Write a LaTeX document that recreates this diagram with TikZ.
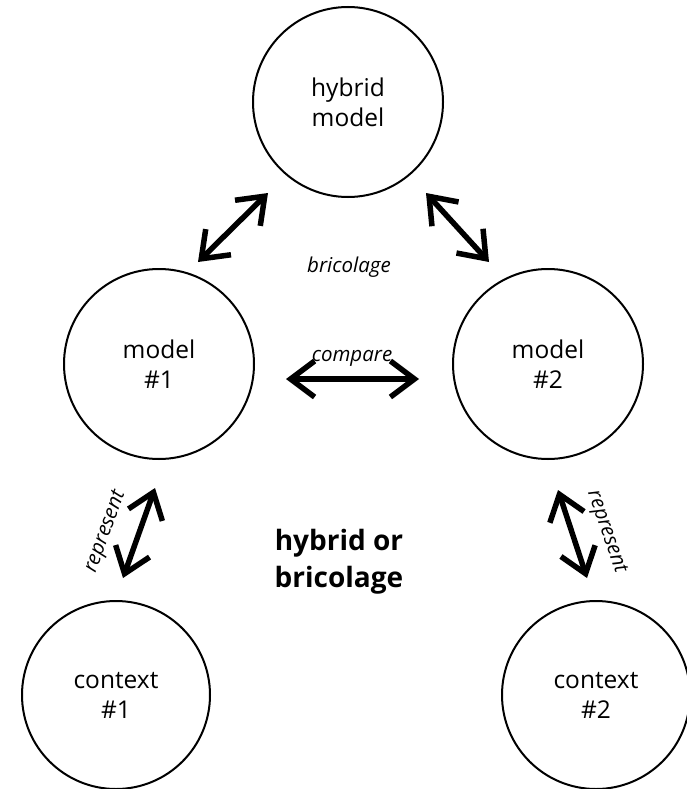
\documentclass[tikz,border=0pt]{standalone}
\usepackage{fontspec}
\setmainfont{Open Sans}
\usetikzlibrary{arrows.meta}
\begin{document}
\begin{tikzpicture}[x=1pt,y=-1pt,
  bubble/.style={circle,draw,line width=2pt,minimum size=190pt,inner sep=0pt,
    align=center,font=\fontsize{24.5}{30}\selectfont},
  link/.style={line width=5.5pt,
    {Straight Barb[length=24pt,width=36pt]}-{Straight Barb[length=24pt,width=36pt]}},
  tag/.style={font=\itshape\fontsize{20.5}{24}\selectfont,inner sep=1pt}]
\useasboundingbox (0,0) rectangle (687,789);
% circles
\node[bubble] (hyb) at (348,102) {hybrid\\model};
\node[bubble] (m1) at (159,364) {model\\\#1};
\node[bubble] (m2) at (548,364) {model\\\#2};
\node[bubble,minimum size=188pt] (c1) at (116,695) {context\\\#1};
\node[bubble,minimum size=188pt] (c2) at (596,695) {context\\\#2};
% arrow end points
\coordinate (hybA) at (268,193);
\coordinate (m1A) at (198,262);
\coordinate (hybB) at (426,193);
\coordinate (m2A) at (489,262);
\coordinate (m1B) at (286,379);
\coordinate (m2B) at (419,379);
\coordinate (m1C) at (155,488);
\coordinate (c1A) at (123,578);
\coordinate (m2C) at (558,490);
\coordinate (c2A) at (587,578);
% connectors
\draw[link] (hybA) -- (m1A);
\draw[link] (hybB) -- (m2A);
\draw[link] (m1B) -- (m2B);
\draw[link] (m1C) -- (c1A);
\draw[link] (m2C) -- (c2A);
% labels
\node[tag] (lbric) at (349,267) {bricolage};
\node[tag] (lcomp) at (352,358) {compare};
\node[tag,rotate=70] (lrep1) at (106,532) {represent};
\node[tag,rotate=-71] (lrep2) at (606,532) {represent};
\node[font=\bfseries\fontsize{28}{37}\selectfont,align=center] (title) at (339,562) {hybrid or\\bricolage};
\end{tikzpicture}
\end{document}
